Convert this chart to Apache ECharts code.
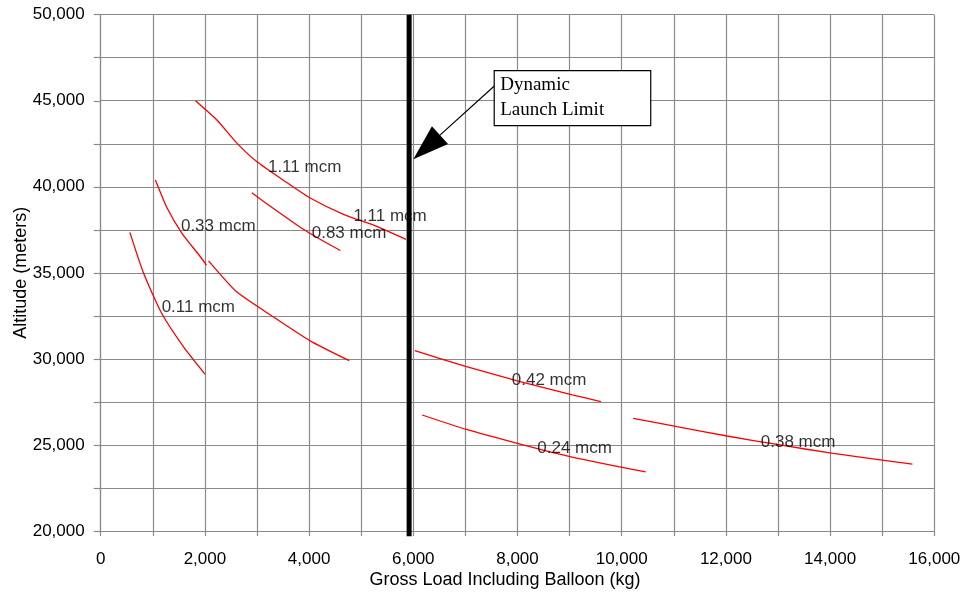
<!DOCTYPE html>
<html><head><meta charset="utf-8">
<script src="https://cdn.jsdelivr.net/npm/echarts@6/dist/echarts.min.js"></script>
<style>html,body{margin:0;padding:0;background:#fff}#c{width:960px;height:595px}</style>
</head><body><div id="c"></div>
<script>
// Curve data: [gross load kg, altitude m]
const curve111 = [[1820,45000],[2230,43880],[2610,42550],[3000,41450],[3570,40250],[4020,39350],[4660,38400],[5300,37700],[5860,36950]];
const curve083 = [[2900,39650],[3310,38750],[3830,37650],[4210,36950],[4600,36300]];
const curve033a = [[1050,40400],[1270,38800],[1560,37300],[1910,35950],[2030,35450]];
const curve033b = [[2070,35700],[2610,33900],[3310,32450],[4020,31050],[4770,29900]];
const curve011 = [[560,37350],[820,35000],[1170,32650],[1590,30700],[2000,29120]];
const curve042 = [[6030,30480],[7020,29550],[8050,28680],[9070,27900],[9600,27520]];
const curve024 = [[6170,26740],[7020,25900],[8050,25050],[9070,24280],[10460,23430]];
const curve038 = [[10220,26550],[11060,26060],[12020,25520],[13040,25000],[14060,24510],[15580,23880]];

// Curve labels: left edge x, vertical centre y, text
const labelX = [3210, 4850, 4050, 1540, 1170, 7890, 8380, 12670];
const labelY = [41150, 38260, 37300, 37720, 33000, 28730, 24800, 25130];
const labelText = ['1.11 mcm','1.11 mcm','0.83 mcm','0.33 mcm','0.11 mcm','0.42 mcm','0.24 mcm','0.38 mcm'];

// Dynamic launch limit
const launchLimitX = 5920;
const launchLimitY = [19700, 50000];

// Annotation (data coords)
const annotBoxTL = [7553, 46746];
const annotBoxBR = [10557, 43550];
const annotArrowFrom = [7555, 45857];
const annotArrowTo = [6000, 41598];
const annotLines = ['Dynamic', 'Launch Limit'];

const xTicks = {min:0, max:16000, step:1000};
const yTicks = {min:20000, max:50000, step:2500};

const SANS = 'Liberation Sans, Arial, sans-serif';
const fmt = v => v.toLocaleString('en-US');
const curves = [curve111, curve083, curve033a, curve033b, curve011, curve042, curve024, curve038];

const chart = echarts.init(document.getElementById('c'), null, {renderer:'canvas'});
const series = curves.map(c => ({
  type:'line', data:c, smooth:0.2, showSymbol:false, silent:true,
  lineStyle:{color:'#ff0000', width:1.3}, z:3
}));
series.push({
  type:'line', data:[[launchLimitX, launchLimitY[0]],[launchLimitX, launchLimitY[1]]],
  showSymbol:false, clip:false, silent:true, lineStyle:{color:'#000', width:5}, z:4
});
series.push({
  type:'scatter', symbolSize:0, silent:true, z:5,
  data: labelX.map((x,i)=>[x, labelY[i], labelText[i]]),
  label:{show:true, position:'right', distance:0, formatter:p=>p.value[2],
    color:'#000', fontFamily:SANS, fontSize:17}
});

chart.setOption({
  animation:false,
  backgroundColor:'#fff',
  grid:{left:100.7, right:25.7, top:14.7, bottom:64, containLabel:false, outerBoundsMode:'none'},
  xAxis:{
    type:'value', min:xTicks.min, max:xTicks.max, interval:xTicks.step,
    name:'Gross Load Including Balloon (kg)', nameLocation:'middle', nameGap:40, nameMoveOverlap:false,
    nameTextStyle:{fontFamily:SANS, fontSize:18, color:'#000', padding:[0,25,0,0]},
    axisLine:{show:true, lineStyle:{color:'#8a8a8a', width:1.2}},
    axisTick:{show:true, length:5, lineStyle:{color:'#8a8a8a', width:1.2}},
    axisLabel:{margin:20, fontFamily:SANS, fontSize:17, color:'#000',
      formatter:v => (v % 2000 === 0 ? fmt(v) : '')},
    splitLine:{show:true, lineStyle:{color:'#8a8a8a', width:1.2}}
  },
  yAxis:{
    type:'value', min:yTicks.min, max:yTicks.max, interval:yTicks.step,
    name:'Altitude (meters)', nameLocation:'middle', nameGap:71, nameMoveOverlap:false,
    nameTextStyle:{fontFamily:SANS, fontSize:18, color:'#000'},
    axisLine:{show:true, lineStyle:{color:'#8a8a8a', width:1.2}},
    axisTick:{show:true, length:7, lineStyle:{color:'#8a8a8a', width:1.2}},
    axisLabel:{margin:16, fontFamily:SANS, fontSize:17, color:'#000',
      formatter:v => (v % 5000 === 0 ? fmt(v) : '')},
    splitLine:{show:true, lineStyle:{color:'#8a8a8a', width:1.2}}
  },
  series
});

// Annotation graphic, positioned through the chart's scales
const P = d => chart.convertToPixel({gridIndex:0}, d);
const tl = P(annotBoxTL), br = P(annotBoxBR);
const a0 = P(annotArrowFrom), a1 = P(annotArrowTo);
const dx = a1[0]-a0[0], dy = a1[1]-a0[1], L = Math.hypot(dx,dy);
const ux = dx/L, uy = dy/L, px = -uy, py = ux;
const headLen = 36, headW = 12;
const base = [a1[0]-ux*headLen, a1[1]-uy*headLen];
chart.setOption({
  graphic:[
    {type:'line', shape:{x1:a0[0], y1:a0[1], x2:base[0], y2:base[1]}, style:{stroke:'#000', lineWidth:1.2}, z:10},
    {type:'polygon', shape:{points:[[a1[0],a1[1]],[base[0]+px*headW, base[1]+py*headW],[base[0]-px*headW, base[1]-py*headW]]}, style:{fill:'#000'}, z:10},
    {type:'rect', shape:{x:tl[0], y:tl[1], width:br[0]-tl[0], height:br[1]-tl[1]}, style:{fill:'#fff', stroke:'#000', lineWidth:1.2}, z:10},
    {type:'text', x:tl[0]+6, y:tl[1]+2, style:{text:annotLines.join('\n'), font:'19px "Liberation Serif", "Times New Roman", serif', fill:'#000', lineHeight:25}, z:11}
  ]
});
</script></body></html>
